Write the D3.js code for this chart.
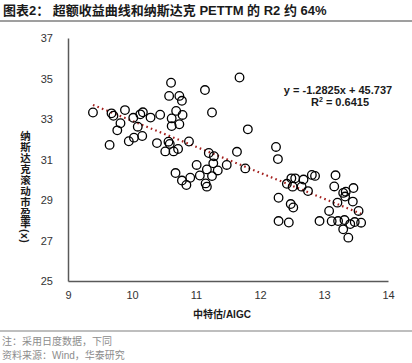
<!DOCTYPE html>
<html lang="zh">
<head>
    <meta charset="UTF-8">
    <title>超额收益曲线和纳斯达克 PETTM</title>
    <script src="https://d3js.org/d3.v7.min.js"></script>
    <style>
        body { margin: 0; background: #fff; }
        svg { display: block; font-family: "Liberation Sans", Arial, "Noto Sans CJK SC", sans-serif; }
        .cjk { font-family: "Liberation Sans", "Noto Sans CJK SC", sans-serif; }
    </style>
</head>
<body>
    <svg id="chart" width="412" height="363"></svg>

    <script>
        // x: 中特估/AIGC, y: 纳斯达克滚动市盈率
        const xValues = [9.39, 9.68, 9.71, 9.89, 9.82, 9.77, 9.65, 10.02, 10.17, 10.13, 10.29, 10.44, 10.09, 9.95, 10.03, 10.16, 10.39,
            10.61, 10.58, 10.74, 10.78, 10.69, 10.79, 10.62, 10.74, 10.62, 10.57, 10.59, 10.52, 10.65, 10.72, 10.89,
            11.14, 11.25, 11.68, 11.81, 11.64, 11.20, 11.28, 11.01, 11.27, 11.48, 11.17, 11.34, 10.68, 10.78, 10.85,
            10.91, 11.06, 11.25, 11.15, 11.17, 11.77,
            12.25, 12.28, 12.42, 12.49, 12.55, 12.51, 12.68, 12.65, 12.75, 12.81, 12.86, 12.29, 12.48, 12.52, 12.29, 12.45, 12.93,
            13.18, 13.16, 13.30, 13.34, 13.33, 13.46, 13.21, 13.45, 13.08, 13.54, 13.12, 13.22, 13.32, 13.41, 13.48, 13.58, 13.30, 13.38];
        const yValues = [33.32, 33.28, 33.16, 33.44, 32.79, 32.44, 31.72, 33.06, 33.33, 33.23, 33.07, 33.21, 32.62, 31.90, 32.08, 32.16, 31.81,
            34.79, 34.14, 34.14, 33.90, 33.40, 33.20, 33.03, 32.74, 32.65, 31.88, 31.77, 31.40, 31.40, 31.52, 31.89,
            34.43, 33.32, 35.05, 32.49, 31.38, 31.32, 31.16, 30.73, 30.81, 30.73, 30.51, 30.46, 30.33, 29.96, 29.74,
            30.10, 30.21, 30.18, 29.82, 29.66, 30.56,
            31.62, 31.02, 29.80, 30.07, 30.07, 29.66, 30.01, 29.66, 29.44, 30.24, 30.19, 29.11, 28.80, 28.63, 27.96, 27.89, 27.96,
            30.22, 29.67, 29.35, 29.41, 29.17, 29.59, 28.87, 28.92, 28.46, 28.46, 27.95, 27.96, 28.01, 27.81, 27.91, 27.88, 27.55, 27.14];

        const xTicks = [9, 10, 11, 12, 13, 14];
        const yTicks = [25, 27, 29, 31, 33, 35, 37];
        const slope = -1.2825;
        const intercept = 45.737;

        const points = xValues.map((x, i) => ({ x: x, y: yValues[i] }));

        const svg = d3.select("#chart");

        const plotLeft = 68, plotRight = 388, plotTop = 38, plotBottom = 281;

        const x = d3.scaleLinear().domain([9, 14]).range([plotLeft, plotRight]);
        const y = d3.scaleLinear().domain([25, 37]).range([plotBottom, plotTop]);

        // title
        svg.append("text")
            .attr("class", "cjk")
            .attr("x", 3).attr("y", 15)
            .attr("font-size", 13).attr("font-weight", "bold")
            .attr("fill", "#1a1a1a")
            .text("图表2：  超额收益曲线和纳斯达克 PETTM 的 R2 约 64%");

        svg.append("line")
            .attr("x1", 0).attr("x2", 412).attr("y1", 21).attr("y2", 21)
            .attr("stroke", "#7f7f7f").attr("stroke-width", 1.5);

        // axes: only the lines and labels
        const xAxis = svg.append("g")
            .attr("transform", `translate(0,${plotBottom})`)
            .call(d3.axisBottom(x).tickValues(xTicks).tickSize(0).tickPadding(10).tickFormat(d3.format("d")));
        xAxis.select(".domain").attr("stroke", "#595959").attr("stroke-width", 1.5);
        xAxis.selectAll("text").attr("font-size", 11).attr("fill", "#333")
            .attr("font-family", "Liberation Sans, Arial, sans-serif");

        const yAxis = svg.append("g")
            .attr("transform", `translate(${plotLeft},0)`)
            .call(d3.axisLeft(y).tickValues(yTicks).tickSize(0).tickPadding(15).tickFormat(d3.format("d")));
        yAxis.select(".domain").attr("stroke", "#595959").attr("stroke-width", 1.5);
        yAxis.selectAll("text").attr("font-size", 11).attr("fill", "#333")
            .attr("font-family", "Liberation Sans, Arial, sans-serif");

        // axis titles
        svg.append("text")
            .attr("class", "cjk")
            .attr("x", 222).attr("y", 318)
            .attr("text-anchor", "middle")
            .attr("font-size", 10).attr("font-weight", "bold")
            .attr("fill", "#1a1a1a")
            .text("中特估/AIGC");

        svg.append("text")
            .attr("class", "cjk")
            .attr("x", 25).attr("y", 131)
            .attr("font-size", 10.5).attr("font-weight", "bold")
            .attr("fill", "#1a1a1a")
            .style("writing-mode", "vertical-rl")
            .style("letter-spacing", "0.4px")
            .text("纳斯达克滚动市盈率(x)");

        // trend line over data range
        const xExt = d3.extent(xValues);
        svg.append("line")
            .attr("x1", x(xExt[0])).attr("y1", y(slope * xExt[0] + intercept))
            .attr("x2", x(xExt[1])).attr("y2", y(slope * xExt[1] + intercept))
            .attr("stroke", "#a3201e").attr("stroke-width", 2.2)
            .attr("stroke-dasharray", "1.6,3.2");

        // scatter points
        svg.append("g").selectAll("circle")
            .data(points)
            .enter().append("circle")
            .attr("cx", d => x(d.x))
            .attr("cy", d => y(d.y))
            .attr("r", 4.3)
            .attr("fill", "none")
            .attr("stroke", "#000")
            .attr("stroke-width", 1.3);

        // regression label
        svg.append("text")
            .attr("x", 338).attr("y", 94)
            .attr("text-anchor", "middle")
            .attr("font-size", 11).attr("font-weight", "bold")
            .attr("fill", "#1a1a1a")
            .text("y = -1.2825x + 45.737");
        const r2 = svg.append("text")
            .attr("x", 340).attr("y", 106)
            .attr("text-anchor", "middle")
            .attr("font-size", 11).attr("font-weight", "bold")
            .attr("fill", "#1a1a1a");
        r2.append("tspan").text("R");
        r2.append("tspan").attr("font-size", 7).attr("dy", -4).text("2");
        r2.append("tspan").attr("dy", 4).text(" = 0.6415");

        // footer
        svg.append("line")
            .attr("x1", 0).attr("x2", 412).attr("y1", 331).attr("y2", 331)
            .attr("stroke", "#7f7f7f").attr("stroke-width", 1.2);

        svg.append("text")
            .attr("class", "cjk")
            .attr("x", 2).attr("y", 345)
            .attr("font-size", 10).attr("fill", "#8c8c8c")
            .text("注：采用日度数据，下同");
        svg.append("text")
            .attr("class", "cjk")
            .attr("x", 2).attr("y", 359)
            .attr("font-size", 10).attr("fill", "#8c8c8c")
            .text("资料来源：Wind，华泰研究");
    </script>
</body>
</html>
